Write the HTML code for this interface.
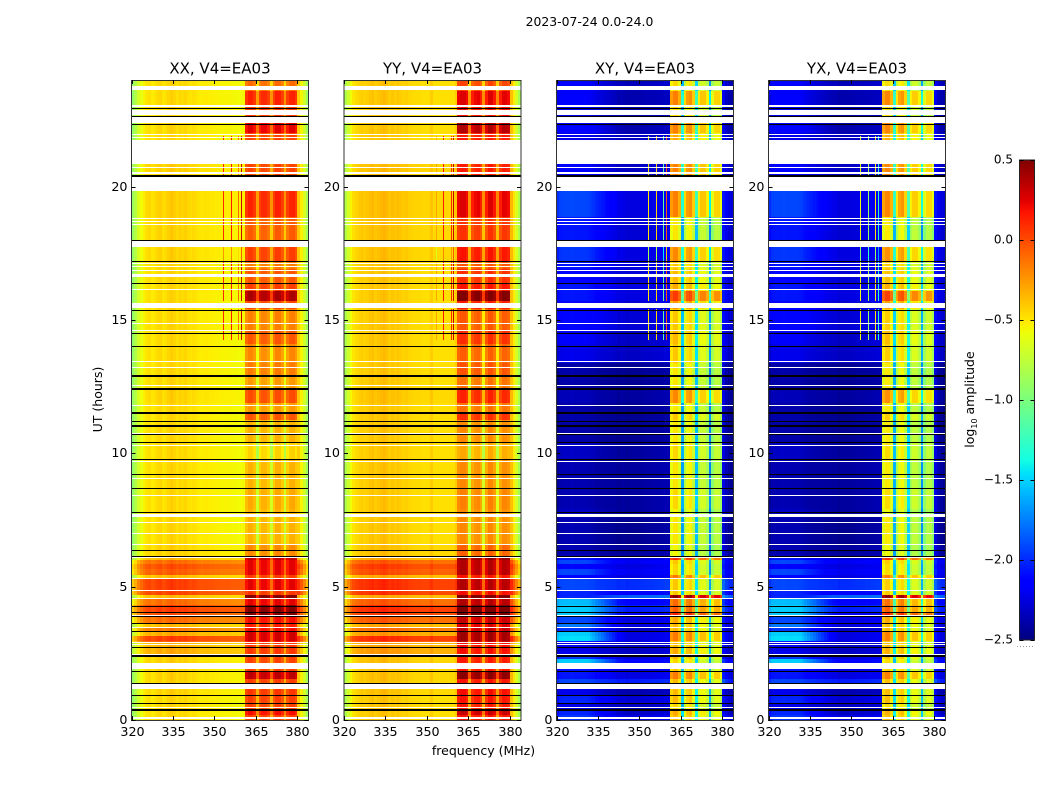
<!DOCTYPE html>
<html>
<head>
<meta charset="utf-8">
<title>2023-07-24 0.0-24.0</title>
<style>
html,body{margin:0;padding:0;background:#fff;width:1050px;height:800px;overflow:hidden}
svg{display:block}
text{font-family:"DejaVu Sans","Liberation Sans",sans-serif;fill:#000}
</style>
</head>
<body>
<svg id="chart" xmlns="http://www.w3.org/2000/svg" width="1050" height="800" viewBox="0 0 1050 800">
  <rect x="0" y="0" width="1050" height="800" fill="#fff"/>
  <text x="589.5" y="26" font-size="12.4" text-anchor="middle">2023-07-24 0.0-24.0</text>
  <text x="220" y="73.5" font-size="15" text-anchor="middle">XX, V4=EA03</text>
  <text x="432.5" y="73.5" font-size="15" text-anchor="middle">YY, V4=EA03</text>
  <text x="645" y="73.5" font-size="15" text-anchor="middle">XY, V4=EA03</text>
  <text x="857" y="73.5" font-size="15" text-anchor="middle">YX, V4=EA03</text>
  <text x="483.5" y="755" font-size="12.5" text-anchor="middle">frequency (MHz)</text>
  <text x="102" y="399.5" font-size="12.5" text-anchor="middle" transform="rotate(-90 102 399.5)">UT (hours)</text>
  <text x="974" y="399.5" font-size="12.5" text-anchor="middle" transform="rotate(-90 974 399.5)">log<tspan font-size="8" dy="3">10</tspan><tspan dy="-3"> amplitude</tspan></text>
  <g id="panels"></g>
  <g id="colorbar"></g>
</svg>
<script>
// Tick labels
const freqTicks = [320, 335, 350, 365, 380];
const hourTicks = [0, 5, 10, 15, 20];
const colorTicks = [-2.5, -2.0, -1.5, -1.0, -0.5, 0.0, 0.5];

// Channel categories are 1 MHz wide, 320 to 383 MHz
const channelCount = 64;
const bandFirstChannel = 41;
const bandLastChannel = 59;

// Spectral shape per polarisation, log10 amplitude (320 to 383 MHz)
const xxProfile = [-.92,-.82,-.68,-.6,-.55,-.5,-.48,-.52,-.5,-.47,-.45,-.5,-.48,-.45,-.42,-.45,-.48,-.45,-.47,-.45,-.48,-.5,-.48,-.5,-.52,-.53,-.52,-.52,-.53,-.53,-.54,-.54,-.55,-.55,-.55,-.55,-.56,-.56,-.56,-.57,-.56,
  -.12,-.05,-.05,-.12,-.44,-.15,-.08,-.08,-.15,-.42,-.15,-.05,-.05,-.15,-.42,-.15,-.06,-.05,-.12,-.42,-.55,-.7,-.88];
const yyProfile = [-.82,-.7,-.58,-.5,-.47,-.44,-.42,-.44,-.42,-.4,-.38,-.42,-.4,-.38,-.36,-.38,-.42,-.4,-.42,-.4,-.42,-.44,-.43,-.45,-.46,-.47,-.47,-.47,-.48,-.48,-.48,-.42,-.48,-.48,-.48,-.48,-.48,-.48,-.48,-.48,-.42,
  .04,.08,.08,.02,-.42,-.04,.03,.05,-.04,-.4,-.04,.08,.08,-.02,-.38,-.04,.06,.06,.02,-.38,-.52,-.68,-.84];
const xyProfile = [-.04,.02,.03,.03,.03,.04,.03,.03,.03,.03,.03,.02,.02,.02,0,0,0,0,0,0,0,0,-.02,0,0,-.02,0,0,0,0,.01,.01,.02,.02,.02,.03,.03,.04,.04,.05,.05,
  -.55,-.45,-.45,-.6,-1.6,-.75,-.55,-.5,-.7,-1.5,-.8,-.68,-.68,-.82,-1.7,-.9,-.72,-.72,-.88,.18,.06,0,-.02];
const yxProfile = [-.05,.02,.03,.03,.03,.04,.03,.03,.03,.03,.03,.02,.02,.01,0,0,0,0,0,0,0,0,0,0,0,-.02,0,0,0,0,.01,.01,.02,.02,.02,.03,.03,.04,.04,.05,.05,
  -.57,-.47,-.47,-.62,-1.55,-.78,-.57,-.52,-.72,-1.45,-.82,-.7,-.7,-.84,-1.65,-.92,-.74,-.74,-.9,.18,.06,0,-.02];
// Share of the low-frequency (left) level per channel for cross-hands
const leftShare = [1,1,1,1,1,1,1,1,1,1,1,1,.92,.85,.78,.7,.62,.54,.46,.38,.3,.22,.16,.1,.06,.03,0,0,0,0,0,0,0,0,0,0,0,0,0,0,0,0,0,0,0,0,0,0,0,0,0,0,0,0,0,0,0,0,0,0,0,0,0,0];

// Time segments: start hour and levels read per segment
const segmentStart = [0,.2,.4,.63,.93,1.16,1.38,1.55,1.83,2.15,2.3,2.45,2.73,2.87,2.98,3.15,3.35,3.48,3.63,3.9,4.05,4.3,4.56,4.7,4.87,5.3,5.45,5.65,5.85,6,6.11,6.6,7.6,7.9,8.7,9.75,10.4,11.25,11.55,11.9,12.4,12.94,13.4,14.1,14.6,15.4,15.7,16.1,16.4,16.9,17.2,17.99,18.87,19.85,20.41,21.68,22,22.4,23.06,23.6];
const xxLowLevel = [0,0,0,0,.02,0,.02,.02,.02,.03,.03,.15,.12,.4,.5,.15,.3,.1,.35,.45,.5,.35,.1,.48,.5,.1,.4,.45,.35,.1,.02,0,0,0,0,0,0,0,0,.02,0,0,0,0,0,0,0,0,0,0,.02,.02,.03,.03,.03,0,0,0,0,0];
const xxBandLevel = [.1,.25,.08,.1,.12,.05,.1,.4,.1,.08,.08,.12,.12,.25,.35,.35,.25,.2,.25,.55,.55,.3,.6,.12,.3,.1,.3,.3,.3,.4,-.15,-.28,-.28,-.25,-.28,-.38,-.28,.02,-.2,.05,-.2,-.1,-.14,.02,-.12,.08,.45,.1,.02,-.1,.1,0,.18,.18,.08,.08,.3,.12,.18,-.05];
const xyLeftLevel = [-2,-2.05,-2.25,-2.05,-2.25,-2.15,-1.95,-2.1,-2.1,-1.55,-2,-2.25,-2.25,-2.1,-1.5,-1.55,-2,-1.8,-1.95,-1.55,-1.55,-1.6,-2.05,-2.05,-1.95,-2.15,-1.95,-2.15,-1.95,-2.1,-2.4,-2.4,-2.35,-2.4,-2.4,-2.35,-2.42,-2.42,-2.42,-2.38,-2.42,-2.42,-2.25,-2.2,-2.15,-2.15,-2.1,-2.1,-2.15,-2.1,-2,-2.1,-1.95,-2.2,-2.2,-2.25,-2.15,-2.25,-2.2,-2.2];
const xyMidLevel = [-2.25,-2.32,-2.32,-2.28,-2.38,-2.32,-2.05,-2.25,-2.25,-2.15,-2.28,-2.32,-2.32,-2.25,-2.25,-2.25,-2.32,-2.25,-2.25,-2.15,-2.05,-2.15,-1.85,-2.15,-2,-2.25,-2.2,-2.25,-2.2,-2.25,-2.42,-2.45,-2.42,-2.42,-2.42,-2.42,-2.45,-2.45,-2.45,-2.42,-2.45,-2.45,-2.32,-2.32,-2.28,-2.28,-2.25,-2.25,-2.28,-2.25,-2.25,-2.28,-2.25,-2.32,-2.32,-2.32,-2.38,-2.4,-2.38,-2.35];
const xyBandLevel = [.1,.15,0,.1,.1,0,.1,.3,.05,0,.1,.15,.1,.1,.3,.3,.1,.1,.15,.6,.4,.35,.95,.05,.05,.3,0,0,.05,.55,-.1,-.05,-.1,0,-.05,0,-.05,.05,-.05,.25,-.05,-.05,.05,.1,.05,.2,.5,.15,.1,.05,.25,-.05,.28,.28,.28,.15,.28,0,.28,0];

// Flagged intervals (hours) drawn white, and single-sample flags
const flagStart = [23.64,22.97,22.68,22.40,21.76,20.86,20.48,19.85,17.75,16.60,15.46,7.60,2.15,1.16];
const flagEnd = [23.79,23.05,22.88,22.62,21.68,21.68,20.54,20.41,17.97,16.71,15.65,7.725,1.91,1.36];
const whiteLines = [21.99,21.86,21.76,20.72,18.81,18.70,18.59,17.12,17.01,16.89,16.15,14.88,14.61,13.45,13.22,12.57,11.80,10.77,10.31,9.70,9.06,8.43,7.41,7.00,6.59,6.11,5.34,4.86,4.56,3.93,3.48,2.91,2.84,2.49,0.48,0.12,0.06];
// Gap rows drawn black: thin and thick
const blackLines = [22.96,22.64,22.35,20.44,17.99,17.2,16.38,15.36,14.5,14.01,11.22,10.71,10.41,9.78,9.21,8.69,7.79,6.36,6.14,4.26,4.04,3.89,3.63,3.35,2.73,1.83,1.38,.93,.63];
const blackThickLines = [12.94,12.46,11.55,11.07,2.45,.40,20.44];

// Narrow RFI channels and the hours where they appear
const rfiFreqs = [353.1, 355.8, 358.6, 359.5];
const rfiHourStart = [14.25,15.7,17.2,18,20.41];
const rfiHourEnd = [15.4,17.2,17.75,19.85,21.9];
const xxRfiValue = [.1,.15,-.1,.3];
const yyRfiValue = [-.3,.15,.1,.3];
const xyRfiValue = [-.5,-.45,-1.1,-.05];
const yxRfiValue = [-.6,-.9,-.5,-1.3];

const panelNames = ['xx','yy','xy','yx'];
const panelLefts = [131.5,344,556.5,768.5];

const plotWidth = 177, plotTop = 80, plotBottom = 720;
const freqMin = 320, freqMax = 384, hourMax = 24;
const vMin = -2.5, vMax = 0.5;
const NS = 'http://www.w3.org/2000/svg';

function xScale(left, f){ return left + (f - freqMin) / (freqMax - freqMin) * plotWidth; }
function yScale(h){ return plotBottom - h / hourMax * (plotBottom - plotTop); }
function clamp(v){ return Math.max(0, Math.min(1, v)); }
function jet(v){
  const t = clamp((v - vMin) / (vMax - vMin));
  const r = t < .35 ? 0 : t < .66 ? (t - .35) / .31 : t < .89 ? 1 : 1 - (t - .89) / .11 * .5;
  const g = t < .125 ? 0 : t < .375 ? (t - .125) / .25 : t < .64 ? 1 : t < .91 ? 1 - (t - .64) / .27 : 0;
  const b = t < .11 ? .5 + t / .11 * .5 : t < .34 ? 1 : t < .65 ? 1 - (t - .34) / .31 : 0;
  return 'rgb(' + Math.round(r * 255) + ',' + Math.round(g * 255) + ',' + Math.round(b * 255) + ')';
}
function cellValue(name, c, s){
  const inBand = c >= bandFirstChannel && c <= bandLastChannel;
  if (name === 'xx') return xxProfile[c] + (inBand ? xxBandLevel[s] : xxLowLevel[s]);
  if (name === 'yy') return yyProfile[c] + (inBand ? xxBandLevel[s] : xxLowLevel[s]);
  const prof = name === 'xy' ? xyProfile : yxProfile;
  if (inBand) return prof[c] + xyBandLevel[s];
  return prof[c] + leftShare[c] * xyLeftLevel[s] + (1 - leftShare[c]) * xyMidLevel[s];
}
function setBox(el, x, y, w, h, fill){
  el.setAttribute('x', x);
  el.setAttribute('y', y);
  el.setAttribute('width', w);
  el.setAttribute('height', h);
  el.setAttribute('fill', fill);
  el.setAttribute('shape-rendering', 'crispEdges');
}
function hLine(g, left, h, px, color, name){
  const el = document.createElementNS(NS, 'rect');
  
  
  setBox(el, left, Math.round(yScale(h)), plotWidth, px, color);
  g.appendChild(el);
}

const panelsGroup = document.getElementById('panels');
panelNames.forEach(function(name, pi){
  const left = panelLefts[pi];
  const g = document.createElementNS(NS, 'g');
  
  
  panelsGroup.appendChild(g);

  // heatmap cells
  segmentStart.forEach(function(start, s){
    const end = s + 1 < segmentStart.length ? segmentStart[s + 1] : hourMax;
    const y0 = Math.round(yScale(end));
    const y1 = Math.round(yScale(start));
    for (let c = 0; c < channelCount; c++){
      const x0 = Math.round(xScale(left, freqMin + c));
      const x1 = Math.round(xScale(left, freqMin + c + 1));
      const cell = document.createElementNS(NS, 'rect');
      
      
      setBox(cell, x0, y0, x1 - x0, y1 - y0, jet(cellValue(name, c, s)));
      g.appendChild(cell);
    }
  });

  // RFI stripes
  const rfiValues = {xx: xxRfiValue, yy: yyRfiValue, xy: xyRfiValue, yx: yxRfiValue}[name];
  rfiFreqs.forEach(function(f, i){
    rfiHourStart.forEach(function(hs, r){
      const stripe = document.createElementNS(NS, 'rect');
      
      
      const y0 = Math.round(yScale(rfiHourEnd[r]));
      const y1 = Math.round(yScale(hs));
      setBox(stripe, Math.round(xScale(left, f)), y0, 1, y1 - y0, jet(rfiValues[i] - (r === 2 ? .35 : 0)));
      g.appendChild(stripe);
    });
  });

  // flagged intervals
  flagStart.forEach(function(hs, i){
    const flag = document.createElementNS(NS, 'rect');
    
    
    const y0 = Math.round(yScale(Math.max(hs, flagEnd[i])));
    const y1 = Math.round(yScale(Math.min(hs, flagEnd[i])));
    setBox(flag, left, y0, plotWidth, Math.max(1, y1 - y0), '#fff');
    g.appendChild(flag);
  });
  whiteLines.forEach(function(h){ hLine(g, left, h, 1, '#fff', 'flagged-sample'); });
  blackLines.forEach(function(h){ hLine(g, left, h, 1, '#000', 'gap-line'); });
  blackThickLines.forEach(function(h){ hLine(g, left, h, 2, '#000', 'gap-line-thick'); });

  // frame
  const frame = document.createElementNS(NS, 'rect');
  
  
  frame.setAttribute('x', left);
  frame.setAttribute('y', plotTop + .5);
  frame.setAttribute('width', plotWidth);
  frame.setAttribute('height', plotBottom - plotTop);
  frame.setAttribute('fill', 'none');
  frame.setAttribute('stroke', '#333');
  frame.setAttribute('stroke-width', '1');
  g.appendChild(frame);

  // x ticks
  freqTicks.forEach(function(f){
    const x = Math.round(xScale(left, f)) + .5;
    [[plotBottom, plotBottom - 4], [plotTop, plotTop + 4]].forEach(function(p){
      const t = document.createElementNS(NS, 'line');
      
      
      t.setAttribute('x1', x);
      t.setAttribute('x2', x);
      t.setAttribute('y1', p[0]);
      t.setAttribute('y2', p[1]);
      t.setAttribute('stroke', '#000');
      g.appendChild(t);
    });
    const label = document.createElementNS(NS, 'text');
    
    
    label.setAttribute('x', x);
    label.setAttribute('y', 736);
    label.setAttribute('font-size', '12.7');
    label.setAttribute('text-anchor', 'middle');
    label.textContent = String(f);
    g.appendChild(label);
  });

  // y ticks
  hourTicks.forEach(function(h){
    const y = Math.round(yScale(h)) + .5;
    [[left, left + 4], [left + plotWidth, left + plotWidth - 4]].forEach(function(p){
      const t = document.createElementNS(NS, 'line');
      
      
      t.setAttribute('x1', p[0]);
      t.setAttribute('x2', p[1]);
      t.setAttribute('y1', y);
      t.setAttribute('y2', y);
      t.setAttribute('stroke', '#000');
      g.appendChild(t);
    });
    const label = document.createElementNS(NS, 'text');
    
    
    label.setAttribute('x', left - 4);
    label.setAttribute('y', y + 3.5);
    label.setAttribute('font-size', '12.7');
    label.setAttribute('text-anchor', 'end');
    label.textContent = String(h);
    g.appendChild(label);
  });
});

// Colorbar
const cbLeft = 1019.5, cbWidth = 15, cbTop = 160, cbBottom = 640;
const cbGroup = document.getElementById('colorbar');
function cbY(v){ return cbBottom - (v - vMin) / (vMax - vMin) * (cbBottom - cbTop); }
for (let i = 0; i < 240; i++){
  const v0 = vMin + (vMax - vMin) * i / 240;
  const v1 = vMin + (vMax - vMin) * (i + 1) / 240;
  const seg = document.createElementNS(NS, 'rect');
  
  
  setBox(seg, cbLeft, cbY(v1), cbWidth, cbY(v0) - cbY(v1) + .5, jet(v0));
  cbGroup.appendChild(seg);
}
const cbFrame = document.createElementNS(NS, 'rect');


cbFrame.setAttribute('x', cbLeft);
cbFrame.setAttribute('y', cbTop);
cbFrame.setAttribute('width', cbWidth);
cbFrame.setAttribute('height', cbBottom - cbTop);
cbFrame.setAttribute('fill', 'none');
cbFrame.setAttribute('stroke', '#222');
cbGroup.appendChild(cbFrame);
colorTicks.forEach(function(v){
  const y = Math.round(cbY(v)) + .5;
  [[cbLeft, cbLeft + 4], [cbLeft + cbWidth, cbLeft + cbWidth - 4]].forEach(function(p){
    const t = document.createElementNS(NS, 'line');
    
    
    t.setAttribute('x1', p[0]);
    t.setAttribute('x2', p[1]);
    t.setAttribute('y1', y);
    t.setAttribute('y2', y);
    t.setAttribute('stroke', '#000');
    cbGroup.appendChild(t);
  });
  const label = document.createElementNS(NS, 'text');
  
  
  label.setAttribute('x', 1013);
  label.setAttribute('y', y + 3);
  label.setAttribute('font-size', '12');
  label.setAttribute('text-anchor', 'end');
  label.textContent = v.toFixed(1).replace('-', '\u2212');
  cbGroup.appendChild(label);
});
const dots = document.createElementNS(NS, 'line');


dots.setAttribute('x1', 1017);
dots.setAttribute('x2', 1035);
dots.setAttribute('y1', 646.5);
dots.setAttribute('y2', 646.5);
dots.setAttribute('stroke', '#999');
dots.setAttribute('stroke-dasharray', '1 2');
cbGroup.appendChild(dots);
</script>
</body>
</html>
